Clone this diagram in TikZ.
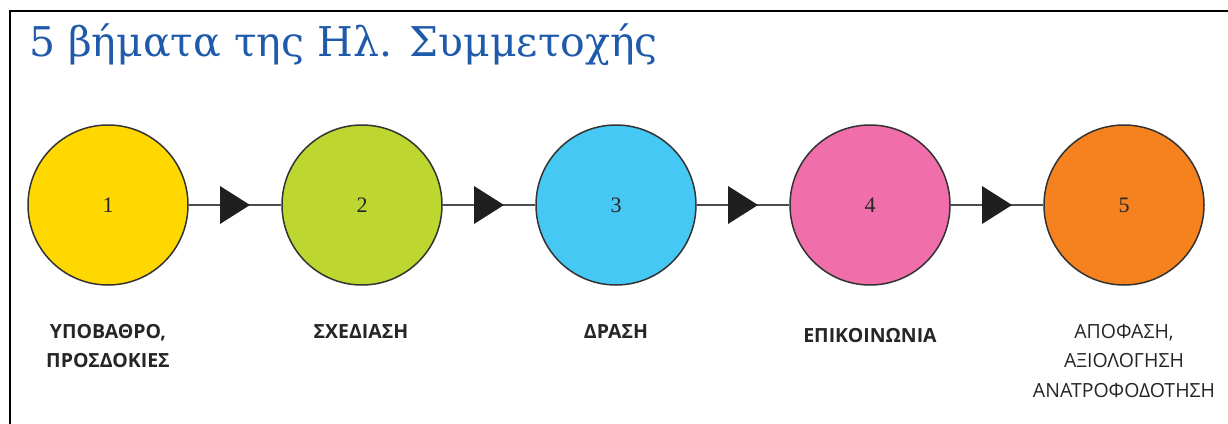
\documentclass[tikz,border=0pt]{standalone}
\usepackage{fontspec}
\setmainfont{Open Sans}
\newfontfamily\titlefont{DejaVu Serif}
\newfontfamily\numfont{Liberation Serif}
\definecolor{titleblue}{HTML}{1F5BAA}
\definecolor{cyel}{HTML}{FFD800}
\definecolor{cgrn}{HTML}{BED630}
\definecolor{ccyn}{HTML}{45C8F3}
\definecolor{cpnk}{HTML}{F06EAA}
\definecolor{corg}{HTML}{F5821F}
\definecolor{labtext}{HTML}{262626}
\begin{document}
\begin{tikzpicture}[x=1pt,y=-1pt,
  stepcircle/.style={circle,draw=black!80,line width=1.5pt,minimum size=160pt,inner sep=0pt,font=\numfont\fontsize{22}{22}\selectfont,text=black!85},
  conn/.style={draw=black!70,line width=2pt},
  tri/.style={fill=black!88,draw=none},
  lab/.style={align=center,font=\fontsize{19.5}{29.5}\selectfont,text=labtext,anchor=base,inner sep=0pt},
  blab/.style={lab,font=\bfseries\fontsize{19.5}{29.5}\selectfont}]
\useasboundingbox (0,0) rectangle (1228,423);
\fill[white] (0,0) rectangle (1228,423);
\coordinate (fbl) at (10,424);
\coordinate (ftl) at (10,11);
\coordinate (ftr) at (1229,11);
\draw[line width=2.5pt] (fbl) -- (ftl) -- (ftr);
\node[anchor=base west,text=titleblue,font=\titlefont\fontsize{41}{41}\selectfont,inner sep=0pt] (title) at (29,56) {5 βήματα της Ηλ. Συμμετοχής};
\node[stepcircle,fill=cyel] (c1) at (108,205) {1};
\node[stepcircle,fill=cgrn] (c2) at (362,205) {2};
\node[stepcircle,fill=ccyn] (c3) at (616,205) {3};
\node[stepcircle,fill=cpnk] (c4) at (870,205) {4};
\node[stepcircle,fill=corg] (c5) at (1124,205) {5};
\foreach \a/\b in {c1/c2,c2/c3,c3/c4,c4/c5}{
  \draw[conn] (\a.east) -- (\b.west);
  \path (\a.east) -- (\b.west) coordinate[pos=0.5] (m\a);
  \fill[tri] ([xshift=-15pt,yshift=-19pt]m\a) -- ([xshift=15pt]m\a) -- ([xshift=-15pt,yshift=19pt]m\a) -- cycle;
}
\node[blab] (l1) at (108,367.5) {ΥΠΟΒΑΘΡΟ,\\ΠΡΟΣΔΟΚΙΕΣ};
\node[blab] (l2) at (361,338) {ΣΧΕΔΙΑΣΗ};
\node[blab] (l3) at (616,338) {ΔΡΑΣΗ};
\node[blab] (l4) at (870,342) {ΕΠΙΚΟΙΝΩΝΙΑ};
\node[lab] (l5) at (1124,397) {ΑΠΟΦΑΣΗ,\\ΑΞΙΟΛΟΓΗΣΗ\\ΑΝΑΤΡΟΦΟΔΟΤΗΣΗ};
\end{tikzpicture}
\end{document}
